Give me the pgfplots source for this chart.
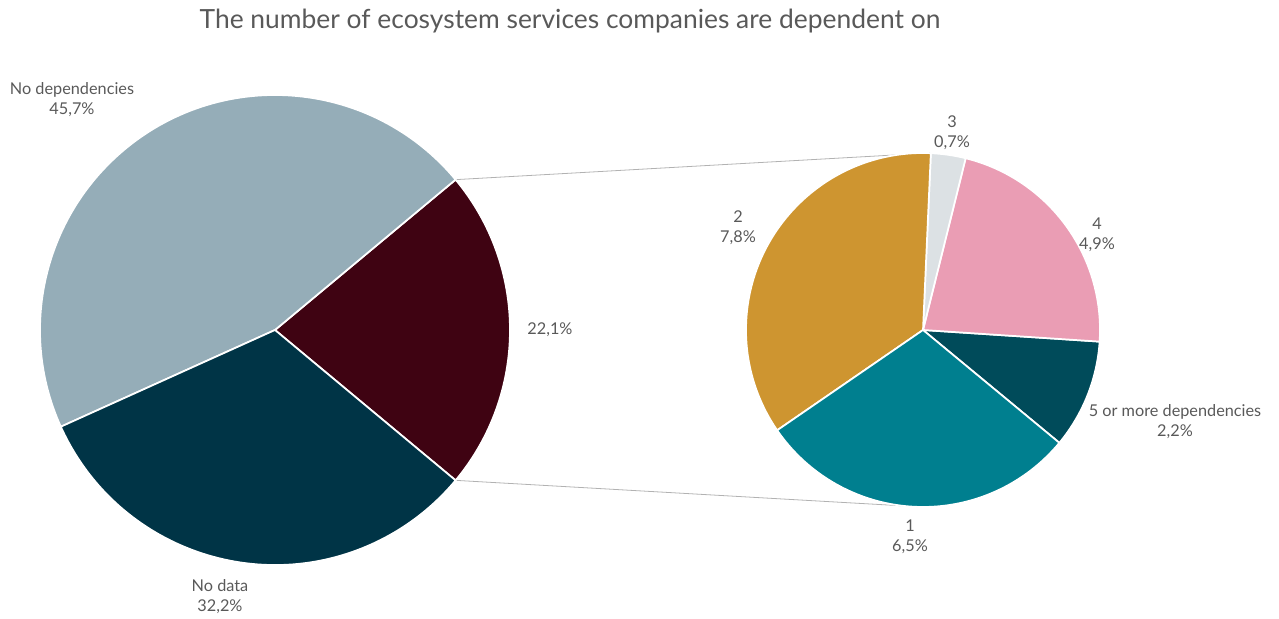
\documentclass[border=0pt]{standalone}
\usepackage{pgfplots}
\pgfplotsset{compat=1.18}
\usepackage{fontspec}
\setmainfont{Lato}

\definecolor{txt}{HTML}{595959}
\definecolor{cNoDep}{HTML}{95ADB8}
\definecolor{cNoData}{HTML}{003446}
\definecolor{cOther}{HTML}{3F0312}
\definecolor{cOne}{HTML}{007F8F}
\definecolor{cTwo}{HTML}{CE9530}
\definecolor{cThree}{HTML}{DCE1E4}
\definecolor{cFour}{HTML}{EA9DB4}
\definecolor{cFive}{HTML}{004B5A}

% shares in percent
\def\vNoDep{45.7}
\def\vNoData{32.2}
\def\vOther{22.1}
\def\vOne{6.5}
\def\vTwo{7.8}
\def\vThree{0.7}
\def\vFour{4.9}
\def\vFive{2.2}

% main pie angles (counterclockwise)
\pgfmathsetmacro\lA{-\vOther*1.8}
\pgfmathsetmacro\lB{\lA+\vOther*3.6}
\pgfmathsetmacro\lC{\lB+\vNoDep*3.6}
\pgfmathsetmacro\lD{\lC+\vNoData*3.6}
% secondary pie angles
\pgfmathsetmacro\k{360/\vOther}
\pgfmathsetmacro\rA{-39.6}
\pgfmathsetmacro\rB{\rA+\vFive*\k}
\pgfmathsetmacro\rC{\rB+\vFour*\k}
\pgfmathsetmacro\rD{\rC+\vThree*\k}
\pgfmathsetmacro\rE{\rD+\vTwo*\k}
\pgfmathsetmacro\rF{\rE+\vOne*\k}

% centre x, centre y, radius (px), start, end, colour
\newcommand{\slice}[6]{%
  \fill[#6, draw=white, line width=1.3pt, line join=round]
    (axis cs:#1,#2) -- ++({#4}:{#3*0.75pt})
    arc[start angle=#4, end angle=#5, radius={#3*0.75pt}] -- cycle;}

\begin{document}
\begin{tikzpicture}
\begin{axis}[
    x=0.75pt, y=0.75pt,
    xmin=0, xmax=1279, ymin=0, ymax=615,
    hide axis, clip=false,
  ]
  \path (axis cs:0,0) rectangle (axis cs:1279,615);

  % connector lines
  \draw[black!30, line width=0.6pt]
    (axis cs:275,285) ++({\lB}:{235*0.75pt}) -- (axis cs:930,462);
  \draw[black!30, line width=0.6pt]
    (axis cs:275,285) ++({\lA}:{235*0.75pt}) -- (axis cs:923,108);

  % main pie
  \slice{275}{285}{235}{\lA}{\lB}{cOther}
  \slice{275}{285}{235}{\lB}{\lC}{cNoDep}
  \slice{275}{285}{235}{\lC}{\lD}{cNoData}

  % secondary pie
  \slice{923}{285}{177}{\rA}{\rB}{cFive}
  \slice{923}{285}{177}{\rB}{\rC}{cFour}
  \slice{923}{285}{177}{\rC}{\rD}{cThree}
  \slice{923}{285}{177}{\rD}{\rE}{cTwo}
  \slice{923}{285}{177}{\rE}{\rF}{cOne}

  \node[txt, font=\fontsize{19.8}{23}\selectfont] at (axis cs:570,594)
    {The number of ecosystem services companies are dependent on};

  \tikzset{lbl/.style={txt, font=\fontsize{12.2}{15}\selectfont, align=center}}
  \node[lbl] at (axis cs:72,515) {No dependencies\\45,7\%};
  \node[lbl] at (axis cs:550,285) {22,1\%};
  \node[lbl] at (axis cs:220,18) {No data\\32,2\%};
  \node[lbl] at (axis cs:952,482) {3\\0,7\%};
  \node[lbl] at (axis cs:738,387) {2\\7,8\%};
  \node[lbl] at (axis cs:1097,380) {4\\4,9\%};
  \node[lbl] at (axis cs:1175,193) {5 or more dependencies\\2,2\%};
  \node[lbl] at (axis cs:910,78) {1\\6,5\%};
\end{axis}
\end{tikzpicture}
\end{document}
